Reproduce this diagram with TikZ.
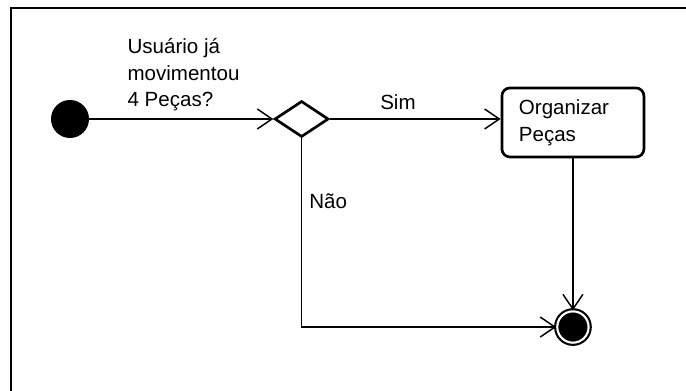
\documentclass[tikz,border=0pt]{standalone}
\usepackage{fontspec}
\setmainfont{Liberation Sans}
\usetikzlibrary{positioning,shapes.geometric,arrows.meta}

\begin{document}
\begin{tikzpicture}[
		font=\fontsize{15.4}{20}\selectfont,
		startnode/.style={circle, fill=black, inner sep=0pt, minimum size=28.5pt},
		endnode/.style={circle, draw=black, fill=black, line width=1.6pt, double=white, double distance=1.6pt, inner sep=0pt, minimum size=23.5pt},
		decision/.style={diamond, draw, line width=2pt, inner sep=0pt, minimum width=40.5pt, minimum height=27pt},
		action/.style={draw, line width=2pt, rounded corners=6pt, minimum height=51.75pt, text width=81pt, inner xsep=12.75pt, align=left},
		flow/.style={line width=1.1pt, -{Straight Barb[length=11pt,width=15pt,line width=1.1pt]}},
		txt/.style={inner sep=0pt, align=left}
	]
		\useasboundingbox (0,0) rectangle (514.5pt,-293.25pt);
		\draw [line width=2pt] (8.25pt,-293.25pt) |- (514.5pt,-6pt);

		\node [startnode] (start) at (52.5pt,-89.25pt) {};
		\node [decision, right=138pt of start] (dec) {};
		\node [action, right=128pt of dec, yshift=-2.6pt] (org) {Organizar\\Peças};
		\node [endnode, below=114pt of org] (end) {};

		\node [txt, anchor=base west] (q) at (95.5pt,-80.25pt) {4 Peças?};
		\node [txt, anchor=base west] (q2) at ([yshift=20pt]q.base west) {movimentou};
		\node [txt, anchor=base west] (q1) at ([yshift=20pt]q2.base west) {Usuário já};
		\node [txt, anchor=base west] (sim) at (285pt,-82.5pt) {Sim};
		\node [txt, anchor=base west] (nao) at (231.75pt,-156.75pt) {Não};

		\draw [flow] (start) -- (dec.west);
		\draw [flow] (dec.east) -- (dec.east -| org.west);
		\draw [flow] (org) -- (end);
		\draw [flow] (dec.south) |- (end);
	\end{tikzpicture}
\end{document}
